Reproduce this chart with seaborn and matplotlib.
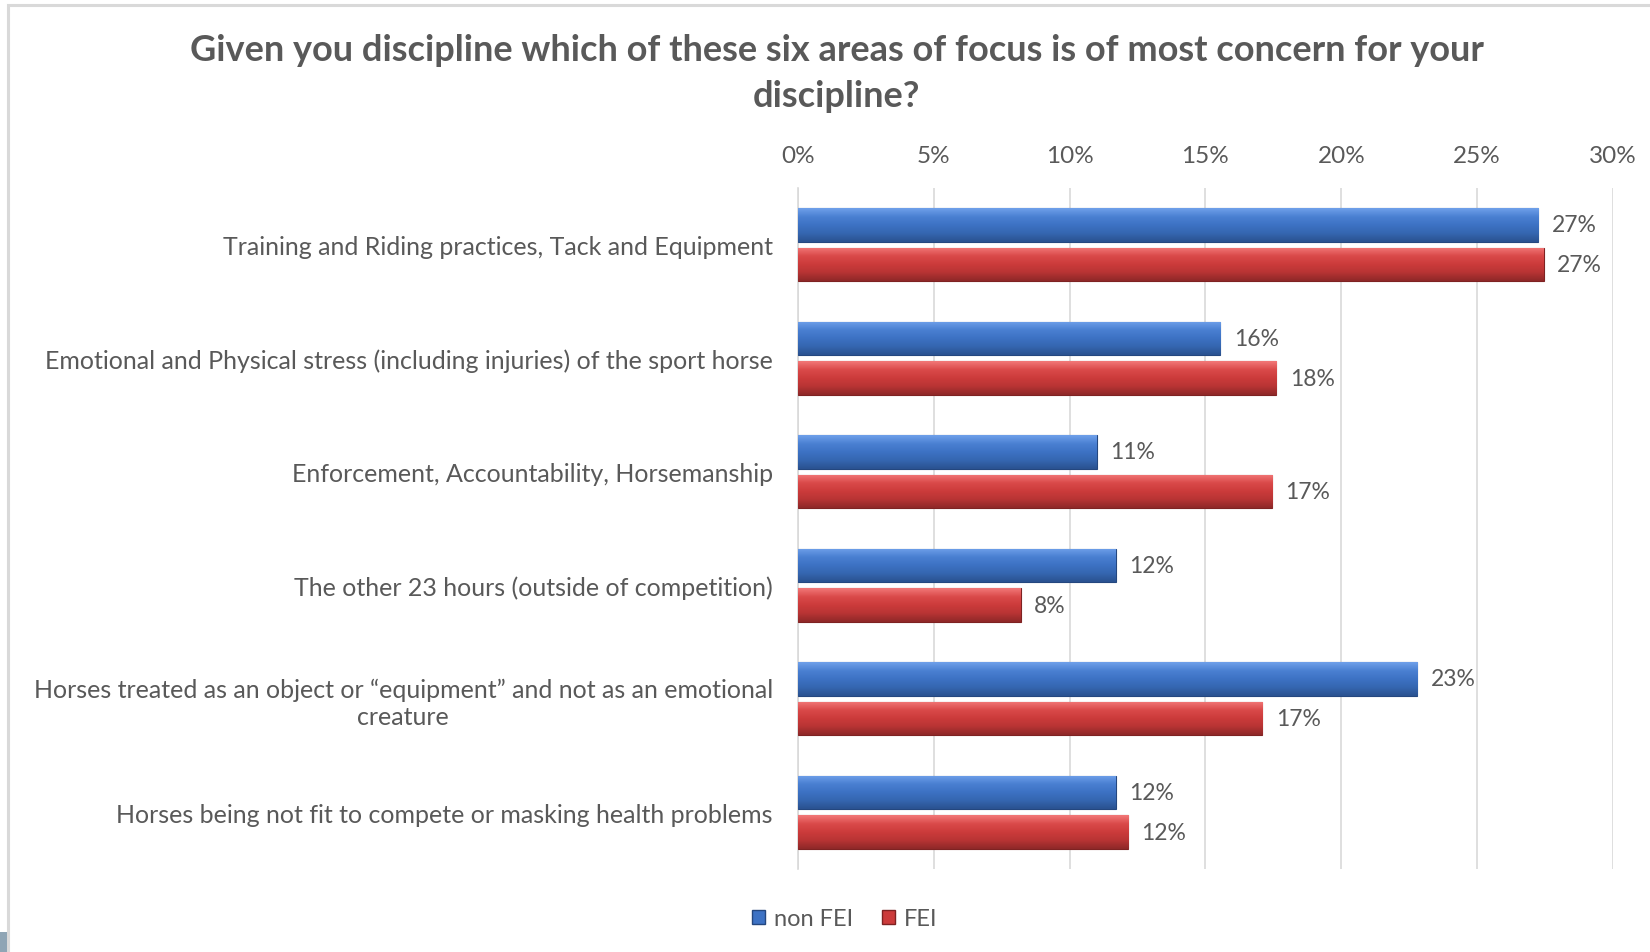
import numpy as np
import pandas as pd
import matplotlib
matplotlib.use("Agg")
import matplotlib.pyplot as plt
import seaborn as sns
from matplotlib.colors import LinearSegmentedColormap
from matplotlib.patches import Rectangle

categories = [
    "Training and Riding practices, Tack and Equipment",
    "Emotional and Physical stress (including injuries) of the sport horse",
    "Enforcement, Accountability, Horsemanship",
    "The other 23 hours (outside of competition)",
    "Horses treated as an object or \u201cequipment\u201d and not as an emotional\ncreature",
    "Horses being not fit to compete or masking health problems",
]
series_names = ["non FEI", "FEI"]
non_fei = [27.25, 15.55, 11.0, 11.7, 22.8, 11.7]
fei = [27.45, 17.6, 17.45, 8.2, 17.1, 12.15]
xticks = [0, 5, 10, 15, 20, 25, 30]
title = "Given you discipline which of these six areas of focus is of most concern for your\ndiscipline?"

df = pd.DataFrame({
    "category": categories * 2,
    "series": [series_names[0]] * len(categories) + [series_names[1]] * len(categories),
    "value": non_fei + fei,
})

sns.set_theme(style="white")
plt.rcParams['font.family'] = ['Lato', 'DejaVu Sans']
grey = "#595959"

fig = plt.figure(figsize=(16.5, 9.53), dpi=100)
ax = fig.add_axes([0.4835, 0.0871, 0.4941, 0.7146])

colors = {"non FEI": "#3D72C4", "FEI": "#CC3B3B"}
edges = {"non FEI": "#24477F", "FEI": "#7E2222"}
sns.barplot(data=df, y="category", x="value", hue="series", order=categories,
            hue_order=series_names, palette=colors, orient="h", width=0.70, gap=0.16,
            ax=ax, legend=False, saturation=1, zorder=3)

ax.set_xlim(0, 30)
ax.set_ylim(5.5, -0.5)
ax.set_xticks(xticks)
ax.set_xticklabels([f"{t}%" for t in xticks])
ax.xaxis.tick_top()
ax.tick_params(axis="x", length=0, pad=15.5, labelsize=17.5, colors=grey)
ax.tick_params(axis="y", length=0, pad=18, labelsize=18, colors=grey)
for t in ax.get_yticklabels():
    t.set_multialignment("center")
ax.set_xlabel("")
ax.set_ylabel("")
ax.grid(axis="x", color="#D9D9D9", lw=1.2, zorder=0)
ax.grid(axis="y", visible=False)
for s in ["top", "right", "bottom"]:
    ax.spines[s].set_visible(False)
ax.spines["left"].set_color("#D9D9D9")
ax.spines["left"].set_linewidth(1.2)

cmaps = {
    "non FEI": LinearSegmentedColormap.from_list("b", ["#6FA0EA", "#4A80D2", "#3D72C4", "#3566B0", "#2A5290"]),
    "FEI": LinearSegmentedColormap.from_list("r", ["#F27878", "#DA4A4A", "#CC3B3B", "#B83434", "#8E2828"]),
}
grad = np.linspace(0, 1, 64).reshape(-1, 1)
for patch in ax.patches:
    r, g, b, _ = patch.get_facecolor()
    key = "non FEI" if b > r else "FEI"
    x0, y0 = patch.get_x(), patch.get_y()
    w, h = patch.get_width(), patch.get_height()
    if w <= 0:
        continue
    im = ax.imshow(grad, cmap=cmaps[key], aspect="auto", extent=[x0, x0 + w, y0 + h, y0],
                   zorder=4, interpolation="bicubic")
    im.set_clip_path(patch)
    patch.set_edgecolor(edges[key])
    patch.set_linewidth(0.8)
    ax.text(x0 + w + 0.5, y0 + h / 2, f"{round(w):d}%", va="center", ha="left",
            fontsize=16.5, color=grey, zorder=5)
ax.set_xlim(0, 30)
ax.set_ylim(5.5, -0.5)

fig.text(0.507, 0.9227, title, ha="center", va="center", fontsize=26,
         fontweight="bold", color=grey, linespacing=1.5)

handles = [Rectangle((0, 0), 1, 1, facecolor=colors[n], edgecolor=edges[n]) for n in series_names]
fig.legend(handles, series_names, loc="center", bbox_to_anchor=(0.512, 0.035), ncol=2,
           frameon=False, fontsize=17, handlelength=0.55, handleheight=0.55,
           handletextpad=0.4, columnspacing=1.2, labelcolor=grey)

fig.add_artist(Rectangle((0.005, -0.01), 1.2, 1.004, transform=fig.transFigure,
                         fill=False, edgecolor="#D9D9D9", lw=2.2))
fig.add_artist(Rectangle((0, 0), 0.0045, 0.021, transform=fig.transFigure,
                         facecolor="#8FA5B5", edgecolor="none"))

fig.savefig("out.png", dpi=100, facecolor="white")
